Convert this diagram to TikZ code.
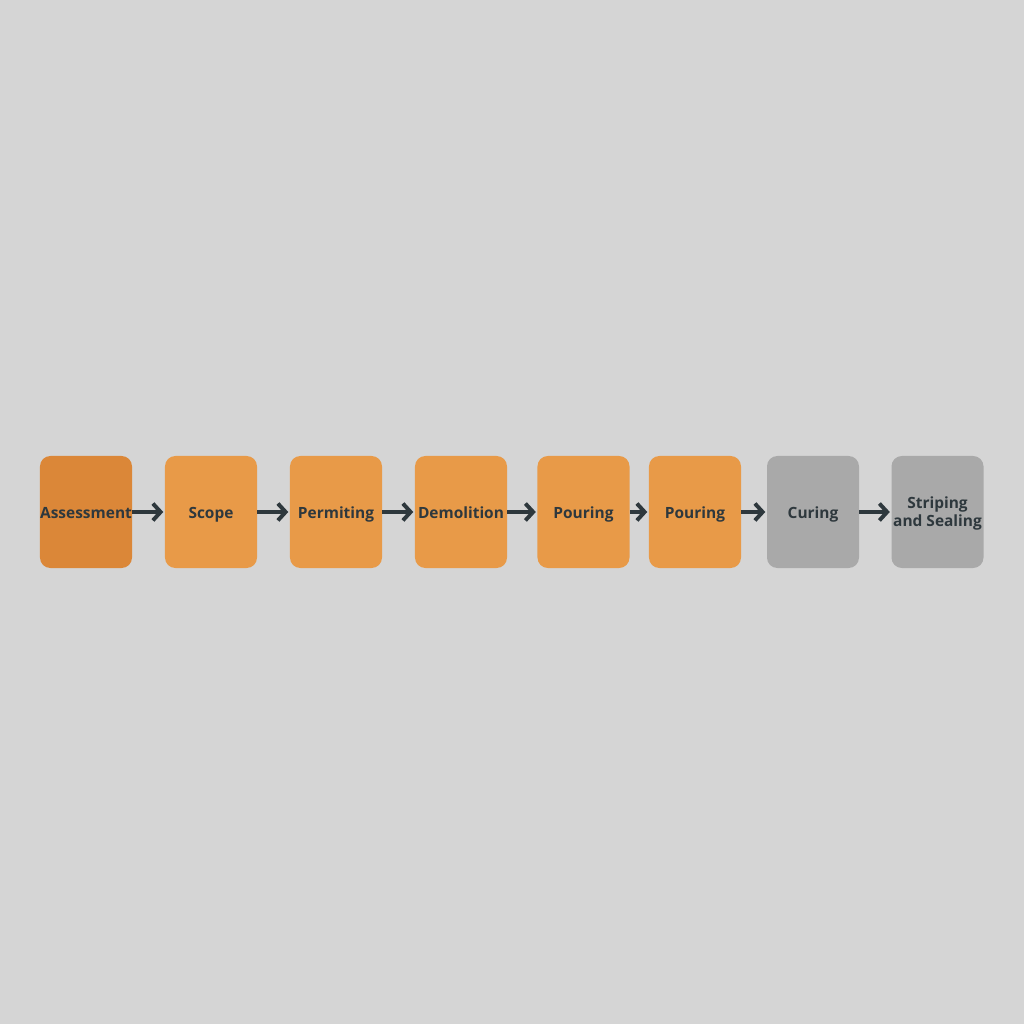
\documentclass[tikz,border=0pt]{standalone}
\usepackage{fontspec}
\setmainfont{Open Sans}
\usetikzlibrary{arrows.meta}
\definecolor{bgc}{HTML}{D5D5D5}
\definecolor{orA}{HTML}{DB8738}
\definecolor{orB}{HTML}{E89A48}
\definecolor{grC}{HTML}{A9A9A9}
\definecolor{ink}{HTML}{2E383D}
\tikzset{
  stepbox/.style={rounded corners=0.26cm, minimum width=2.3cm, minimum height=2.8cm, inner sep=0pt,
    font=\fontsize{11}{13}\selectfont\bfseries, text=ink, align=center},
  oneline/.style={text height=1.8ex, text depth=0.2ex},
  flowarrow/.style={draw=ink, line width=2.8pt, -{Straight Barb[length=5.5pt,width=12pt,line width=2.8pt]}, shorten >=1pt}
}
\begin{document}
\begin{tikzpicture}[x=0.025cm,y=0.025cm]
\fill[bgc] (0,0) rectangle (1024,1024);
\useasboundingbox (0,0) rectangle (1024,1024);
\node[stepbox, oneline, fill=orA] (a) at (86,512) {Assessment};
\node[stepbox, oneline, fill=orB] (b) at (211,512) {Scope};
\node[stepbox, oneline, fill=orB] (c) at (336,512) {Permiting};
\node[stepbox, oneline, fill=orB] (d) at (461,512) {Demolition};
\node[stepbox, oneline, fill=orB] (e) at (583.5,512) {Pouring};
\node[stepbox, oneline, fill=orB] (f) at (695,512) {Pouring};
\node[stepbox, oneline, fill=grC] (g) at (813,512) {Curing};
\node[stepbox, fill=grC] (h) at (937.5,512) {\raisebox{-1.5pt}[\height][\depth]{\begin{tabular}{@{}c@{}}Striping\\and Sealing\end{tabular}}};
\draw[flowarrow] (a.east) -- (b.west);
\draw[flowarrow] (b.east) -- (c.west);
\draw[flowarrow] (c.east) -- (d.west);
\draw[flowarrow] (d.east) -- (e.west);
\draw[flowarrow] (e.east) -- (f.west);
\draw[flowarrow] (f.east) -- (g.west);
\draw[flowarrow] (g.east) -- (h.west);
\end{tikzpicture}
\end{document}
